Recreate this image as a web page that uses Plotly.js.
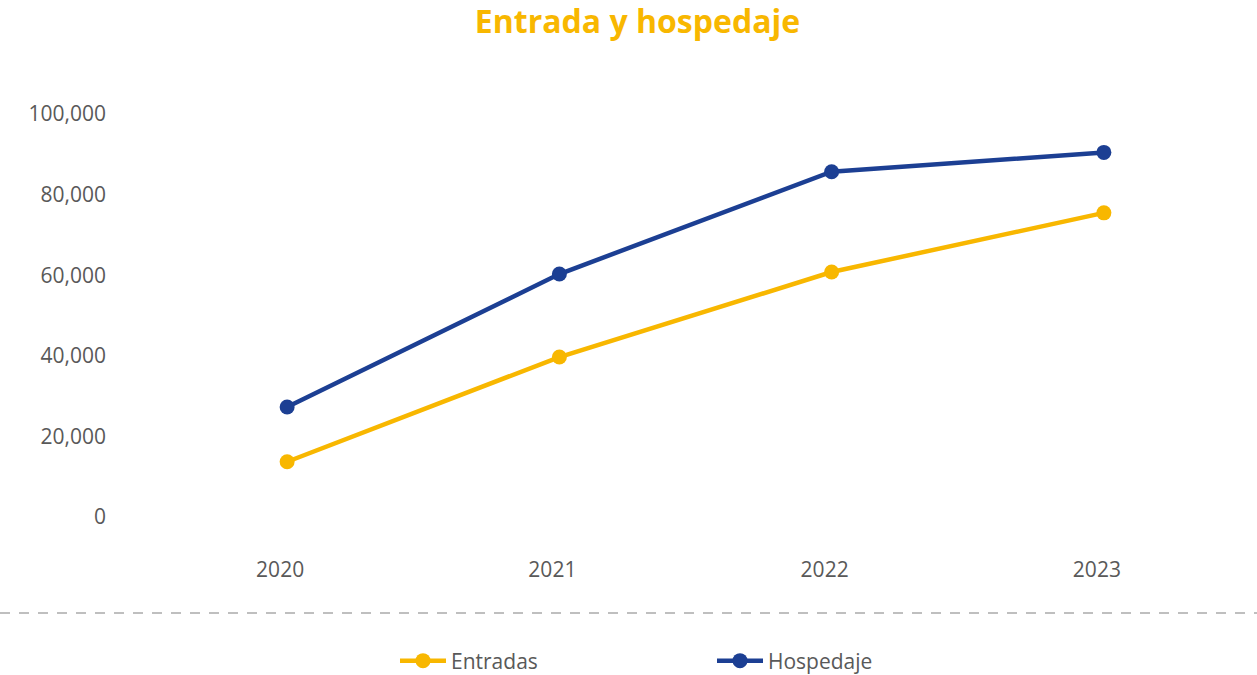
<!DOCTYPE html>
<html>
<head>
<meta charset="utf-8">
<script src="https://cdn.plot.ly/plotly-3.0.1.min.js"></script>
<style>html,body{margin:0;padding:0;background:#fff;}#chart{width:1257px;height:675px;}</style>
</head>
<body>
<div id="chart"></div>
<script>
const years = ["2020", "2021", "2022", "2023"];
const entradas = [13700, 39700, 60800, 75500];
const hospedaje = [27300, 60300, 85700, 90500];
const yTicks = [0, 20000, 40000, 60000, 80000, 100000];
const yTickLabels = ["0", "20,000", "40,000", "60,000", "80,000", "100,000"];

const YELLOW = "#F8B700";
const BLUE = "#1C3F93";
const FONT = "Open Sans, sans-serif";

const traces = [
  {x: years, y: entradas, name: "Entradas", type: "scatter", mode: "lines+markers",
   line: {color: YELLOW, width: 4.5}, marker: {color: YELLOW, size: 15}},
  {x: years, y: hospedaje, name: "Hospedaje", type: "scatter", mode: "lines+markers",
   line: {color: BLUE, width: 4.5}, marker: {color: BLUE, size: 15}}
];

const L = 151, R = 17, T = 94, B = 150;
const W = 1257 - L - R, H = 675 - T - B;

const layout = {
  width: 1257, height: 675,
  margin: {l: L, r: R, t: T, b: B, pad: 0, autoexpand: false},
  paper_bgcolor: "#fff", plot_bgcolor: "#fff",
  font: {family: FONT, size: 21, color: "#595959"},
  title: {text: "<b>Entrada y hospedaje</b>", x: 637.5 / 1257, xref: "container", xanchor: "center",
          y: 1 - 22/675, yref: "container", yanchor: "middle",
          font: {family: FONT, size: 32, color: YELLOW}},
  xaxis: {type: "category", range: [-0.5, 3.5], showgrid: false, zeroline: false, showline: false,
          ticks: "", ticklabelshift: -7, ticklabelstandoff: 30,
          tickfont: {family: FONT, size: 21, color: "#595959"}, fixedrange: true},
  yaxis: {range: [-2000, 105000], tickvals: yTicks, ticktext: yTickLabels,
          showgrid: false, zeroline: false, showline: false, ticks: "",
          ticklabelstandoff: 44,
          tickfont: {family: FONT, size: 21, color: "#595959"}, fixedrange: true},
  showlegend: true,
  legend: {orientation: "h", x: (395 - L) / W, xanchor: "left", y: -(661 - (T + H)) / H, yanchor: "middle",
           entrywidth: 256, entrywidthmode: "pixels", itemwidth: 46,
           font: {family: FONT, size: 21, color: "#595959"}, bgcolor: "rgba(0,0,0,0)"},
  shapes: [{type: "line", xref: "paper", yref: "paper",
            x0: -L / W, x1: (1257 - L) / W, y0: -(613 - (T + H)) / H, y1: -(613 - (T + H)) / H,
            line: {color: "#BFBFBF", width: 2, dash: "10px,9px"}}],
  hovermode: false
};

Plotly.newPlot("chart", traces, layout, {displayModeBar: false, staticPlot: true});
</script>
</body>
</html>
